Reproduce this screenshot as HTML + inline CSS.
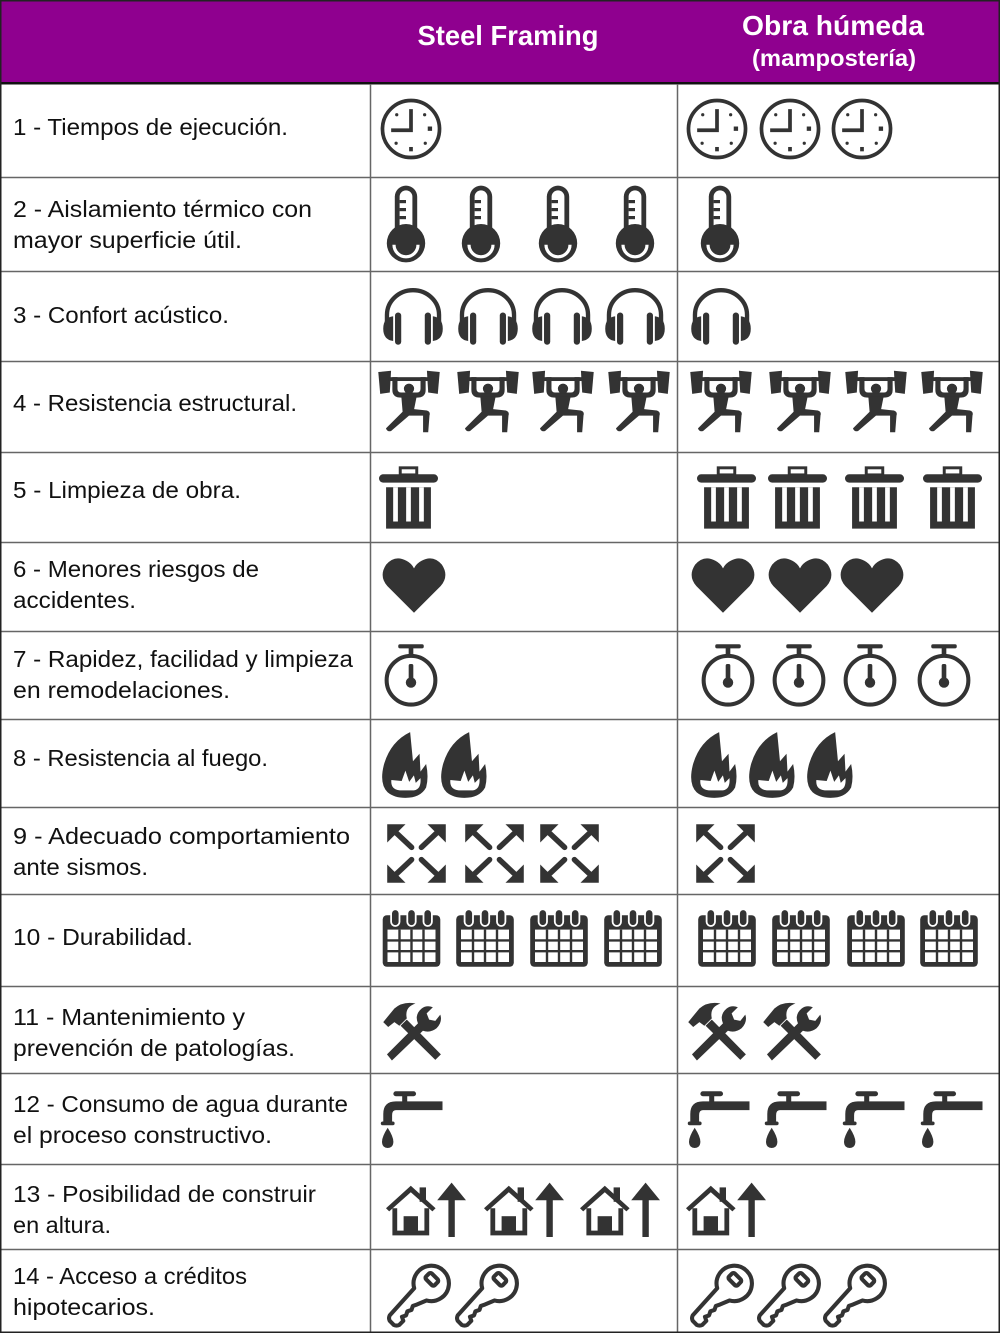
<!DOCTYPE html>
<html><head><meta charset="utf-8"><style>
html,body{margin:0;padding:0;background:#fff;}
svg{display:block;}
text{font-family:"Liberation Sans","DejaVu Sans",sans-serif;}
</style></head><body>
<svg width="1000" height="1333" viewBox="0 0 1000 1333" xmlns="http://www.w3.org/2000/svg">
<defs>
<symbol id="clock" viewBox="0 0 100 100">
 <circle cx="50" cy="50" r="46" fill="none" stroke="#333" stroke-width="6"/>
 <path d="M50 18V52H18" fill="none" stroke="#333" stroke-width="6"/>
 <g fill="#333"><rect x="77" y="46" width="7" height="7"/><rect x="47" y="79" width="6" height="7"/>
 <circle cx="72" cy="27" r="2.6"/><circle cx="27" cy="27" r="2.6"/><circle cx="26" cy="73" r="2.6"/><circle cx="73" cy="73" r="2.6"/></g>
</symbol>
<symbol id="thermo" viewBox="0 0 50 100">
 <rect x="11" y="2" width="28" height="66" rx="14" fill="#333"/>
 <rect x="17" y="8" width="16" height="52" rx="8" fill="#fff"/>
 <rect x="17" y="20" width="8" height="4" fill="#333"/><rect x="17" y="30" width="8" height="4" fill="#333"/><rect x="17" y="40" width="8" height="4" fill="#333"/>
 <circle cx="25" cy="74" r="24" fill="#333"/>
 <path d="M10 76A15 15 0 0 0 40 76" fill="none" stroke="#fff" stroke-width="4"/>
</symbol>
<symbol id="phones" viewBox="0 0 100 100">
 <path d="M8 70V50A42 40 0 0 1 92 50V70" fill="none" stroke="#333" stroke-width="7"/>
 <path d="M18 52Q2 54 2 72Q2 90 18 92Z" fill="#333"/>
 <rect x="21" y="46" width="10" height="52" rx="5" fill="#333"/>
 <path d="M82 52Q98 54 98 72Q98 90 82 92Z" fill="#333"/>
 <rect x="69" y="46" width="10" height="52" rx="5" fill="#333"/>
</symbol>
<symbol id="lifter" viewBox="0 0 100 100">
 <g fill="#333">
 <path d="M2 4L22 2L20 36L5 38Z"/><path d="M78 2L98 4L95 38L80 36Z"/>
 <rect x="18" y="12" width="64" height="6"/>
 <path d="M24 12H32V30Q32 36 38 36H62Q68 36 68 30V12H76V32Q76 44 62 44H38Q24 44 24 32Z"/>
 <circle cx="50" cy="30" r="8"/>
 <path d="M38 42H62L58 62L78 64Q84 66 82 72L80 98H72L72 72H50L22 96Q16 98 14 92L40 66Z"/>
 </g>
</symbol>
<symbol id="trash" viewBox="0 0 100 110">
 <rect x="36" y="3" width="28" height="12" fill="none" stroke="#333" stroke-width="5"/>
 <rect x="0" y="14" width="100" height="14" rx="7" fill="#333"/>
 <path d="M12 36H88V106H12Z" fill="#333"/>
 <rect x="24" y="36" width="8" height="58" fill="#fff"/><rect x="46" y="36" width="8" height="58" fill="#fff"/><rect x="68" y="36" width="8" height="58" fill="#fff"/>
</symbol>
<symbol id="heart" viewBox="0 0 100 90">
 <path d="M50 88L8 46Q-6 30 6 12Q20 -4 38 6Q46 10 50 18Q54 10 62 6Q80 -4 94 12Q106 30 92 46Z" fill="#333"/>
</symbol>
<symbol id="watch" viewBox="0 0 100 110">
 <rect x="28" y="2" width="44" height="7" rx="3" fill="#333"/>
 <rect x="46" y="6" width="8" height="18" fill="#333"/>
 <circle cx="50" cy="64" r="42" fill="none" stroke="#333" stroke-width="7"/>
 <rect x="46" y="36" width="8" height="30" rx="3" fill="#333"/><circle cx="50" cy="68" r="9" fill="#333"/>
</symbol>
<symbol id="flame" viewBox="0 0 100 140">
 <path d="M62 0Q20 20 6 70Q-4 110 14 128Q28 140 52 140Q84 140 96 118Q102 96 96 68L84 84L82 46L68 62Z" fill="#333"/>
 <path d="M22 102Q20 122 40 124H70Q86 122 84 98L74 108L70 92L60 106L52 82L44 104Z" fill="#fff"/>
</symbol>
<symbol id="arrows" viewBox="0 0 100 100">
 <g fill="#333" stroke="#333" stroke-width="9" stroke-linecap="round">
 <path d="M8 8L42 40"/><path d="M92 8L58 40"/><path d="M8 92L42 60"/><path d="M92 92L58 60"/>
 </g>
 <g fill="#333">
 <path d="M2 2H32L2 32Z"/><path d="M98 2H68L98 32Z"/><path d="M2 98H32L2 68Z"/><path d="M98 98H68L98 68Z"/>
 </g>
</symbol>
<symbol id="cal" viewBox="0 0 100 100">
 <rect x="2" y="12" width="96" height="86" rx="7" fill="#333"/>
 <g fill="#333" stroke="#fff" stroke-width="3"><rect x="16" y="2" width="14" height="28" rx="7"/><rect x="43" y="2" width="14" height="28" rx="7"/><rect x="70" y="2" width="14" height="28" rx="7"/></g>
 <rect x="10" y="36" width="80" height="54" fill="#fff"/>
 <g stroke="#333" stroke-width="4"><path d="M30 36V90M50 36V90M70 36V90M10 54H90M10 72H90"/></g>
</symbol>
<symbol id="tools" viewBox="0 0 100 100">
 <g fill="#333">
 <path d="M30 40L40 30L95 86L86 95Z"/>
 <path d="M2 34L20 12Q34 0 54 4Q36 10 40 28L28 40L20 34L10 42Z"/>
 <path d="M8 86L58 36Q52 22 64 12Q72 6 82 10L72 20L76 30L86 32L94 22Q98 34 88 44Q78 52 66 48L16 96Z"/>
 </g>
</symbol>
<symbol id="tap" viewBox="0 0 100 100">
 <g fill="#333">
 <rect x="22" y="2" width="36" height="8" rx="4"/><rect x="36" y="4" width="8" height="18"/>
 <path d="M100 18V32H26Q20 32 20 40V52H6V38Q6 18 26 18Z"/>
 <rect x="2" y="50" width="22" height="6" rx="3"/>
 <path d="M13 60Q4 74 4 82Q4 92 13 92Q22 92 22 82Q22 74 13 60Z"/>
 </g>
</symbol>
<symbol id="house" viewBox="0 0 100 70">
 <g fill="#333">
 <path d="M0 34L31 6L62 34L58 38L31 14L4 38Z"/>
 <rect x="42" y="8" width="8" height="18"/>
 <path d="M8 34H14V62H48V34H54V68H8Z"/>
 <rect x="22" y="44" width="18" height="20"/>
 <path d="M82 2L100 24H86V70H78V24H64Z"/>
 </g>
</symbol>
<symbol id="key" viewBox="0 0 100 100">
 <g fill="none" stroke="#333" stroke-width="6" stroke-linejoin="round">
 <path d="M58 58A26 26 0 1 0 40 40L4 80Q2 84 4 88L10 94Q14 96 18 94L24 88L22 82L28 80L30 74L36 72L38 66L44 64Z"/>
 <rect x="60" y="18" width="12" height="18" rx="3" transform="rotate(-45 66 27)"/>
 </g>
</symbol>
</defs>

<rect x="0" y="0" width="1000" height="84" fill="#8f008f"/>
<rect x="0" y="82" width="1000" height="2.5" fill="#111"/>
<text x="508" y="45" text-anchor="middle" font-size="28" font-weight="bold" fill="#fff" textLength="181" lengthAdjust="spacingAndGlyphs">Steel Framing</text>
<text x="833" y="35" text-anchor="middle" font-size="28" font-weight="bold" fill="#fff" textLength="182" lengthAdjust="spacingAndGlyphs">Obra húmeda</text>
<text x="834" y="66" text-anchor="middle" font-size="23" font-weight="bold" fill="#fff" textLength="164" lengthAdjust="spacingAndGlyphs">(mampostería)</text>

<g stroke="#666" stroke-width="1.5" fill="none">
<path d="M370.5 84V1333M677.5 84V1333"/>
<path d="M0 177.5H1000M0 271.5H1000M0 361.5H1000M0 452.5H1000M0 542.5H1000M0 631.5H1000M0 719.5H1000M0 807.5H1000M0 894.5H1000M0 986.5H1000M0 1073.5H1000M0 1164.5H1000M0 1249.5H1000"/>
</g>
<rect x="0.75" y="0.75" width="998.5" height="1331.5" fill="none" stroke="#222" stroke-width="1.5"/>

<g font-size="23" fill="#111">
<text x="13" y="135" textLength="275" lengthAdjust="spacingAndGlyphs">1 - Tiempos de ejecución.</text>
<text x="13" y="217" textLength="299" lengthAdjust="spacingAndGlyphs">2 - Aislamiento térmico con</text>
<text x="13" y="248" textLength="229" lengthAdjust="spacingAndGlyphs">mayor superficie útil.</text>
<text x="13" y="323" textLength="216" lengthAdjust="spacingAndGlyphs">3 - Confort acústico.</text>
<text x="13" y="411" textLength="284" lengthAdjust="spacingAndGlyphs">4 - Resistencia estructural.</text>
<text x="13" y="498" textLength="228" lengthAdjust="spacingAndGlyphs">5 - Limpieza de obra.</text>
<text x="13" y="577" textLength="246" lengthAdjust="spacingAndGlyphs">6 - Menores riesgos de</text>
<text x="13" y="608" textLength="123" lengthAdjust="spacingAndGlyphs">accidentes.</text>
<text x="13" y="667" textLength="340" lengthAdjust="spacingAndGlyphs">7 - Rapidez, facilidad y limpieza</text>
<text x="13" y="698" textLength="217" lengthAdjust="spacingAndGlyphs">en remodelaciones.</text>
<text x="13" y="766" textLength="255" lengthAdjust="spacingAndGlyphs">8 - Resistencia al fuego.</text>
<text x="13" y="844" textLength="337" lengthAdjust="spacingAndGlyphs">9 - Adecuado comportamiento</text>
<text x="13" y="875" textLength="135" lengthAdjust="spacingAndGlyphs">ante sismos.</text>
<text x="13" y="945" textLength="180" lengthAdjust="spacingAndGlyphs">10 - Durabilidad.</text>
<text x="13" y="1025" textLength="232" lengthAdjust="spacingAndGlyphs">11 - Mantenimiento y</text>
<text x="13" y="1056" textLength="282" lengthAdjust="spacingAndGlyphs">prevención de patologías.</text>
<text x="13" y="1112" textLength="335" lengthAdjust="spacingAndGlyphs">12 - Consumo de agua durante</text>
<text x="13" y="1143" textLength="259" lengthAdjust="spacingAndGlyphs">el proceso constructivo.</text>
<text x="13" y="1202" textLength="303" lengthAdjust="spacingAndGlyphs">13 - Posibilidad de construir</text>
<text x="13" y="1233" textLength="98" lengthAdjust="spacingAndGlyphs">en altura.</text>
<text x="13" y="1284" textLength="234" lengthAdjust="spacingAndGlyphs">14 - Acceso a créditos</text>
<text x="13" y="1315" textLength="142" lengthAdjust="spacingAndGlyphs">hipotecarios.</text>
</g>

<use href="#clock" x="380" y="98" width="62" height="62"/>
<use href="#clock" x="686" y="98" width="62" height="62"/>
<use href="#clock" x="759" y="98" width="62" height="62"/>
<use href="#clock" x="831" y="98" width="62" height="62"/>
<use href="#thermo" x="386" y="184" width="40" height="80"/>
<use href="#thermo" x="461" y="184" width="40" height="80"/>
<use href="#thermo" x="538" y="184" width="40" height="80"/>
<use href="#thermo" x="615" y="184" width="40" height="80"/>
<use href="#thermo" x="700" y="184" width="40" height="80"/>
<use href="#phones" x="380" y="284" width="66" height="62"/>
<use href="#phones" x="456" y="284" width="64" height="62"/>
<use href="#phones" x="530" y="284" width="64" height="62"/>
<use href="#phones" x="603" y="284" width="64" height="62"/>
<use href="#phones" x="688" y="284" width="66" height="62"/>
<use href="#lifter" x="377" y="369" width="64" height="65"/>
<use href="#lifter" x="456" y="369" width="64" height="65"/>
<use href="#lifter" x="531" y="369" width="64" height="65"/>
<use href="#lifter" x="607" y="369" width="64" height="65"/>
<use href="#lifter" x="689" y="369" width="64" height="65"/>
<use href="#lifter" x="768" y="369" width="64" height="65"/>
<use href="#lifter" x="844" y="369" width="64" height="65"/>
<use href="#lifter" x="920" y="369" width="64" height="65"/>
<use href="#trash" x="379" y="466" width="59" height="65"/>
<use href="#trash" x="697" y="466" width="59" height="65"/>
<use href="#trash" x="768" y="466" width="59" height="65"/>
<use href="#trash" x="845" y="466" width="59" height="65"/>
<use href="#trash" x="923" y="466" width="59" height="65"/>
<use href="#heart" x="382" y="557" width="64" height="57"/>
<use href="#heart" x="691" y="557" width="64" height="57"/>
<use href="#heart" x="768" y="557" width="64" height="57"/>
<use href="#heart" x="840" y="557" width="64" height="57"/>
<use href="#watch" x="382" y="642" width="58" height="66"/>
<use href="#watch" x="699" y="642" width="58" height="66"/>
<use href="#watch" x="770" y="642" width="58" height="66"/>
<use href="#watch" x="841" y="642" width="58" height="66"/>
<use href="#watch" x="915" y="642" width="58" height="66"/>
<use href="#flame" x="381" y="732" width="47" height="66"/>
<use href="#flame" x="440" y="732" width="47" height="66"/>
<use href="#flame" x="690" y="732" width="47" height="66"/>
<use href="#flame" x="748" y="732" width="47" height="66"/>
<use href="#flame" x="806" y="732" width="47" height="66"/>
<use href="#arrows" x="386" y="823" width="61" height="61"/>
<use href="#arrows" x="464" y="823" width="61" height="61"/>
<use href="#arrows" x="539" y="823" width="61" height="61"/>
<use href="#arrows" x="695" y="823" width="61" height="61"/>
<use href="#cal" x="381" y="908" width="61" height="60"/>
<use href="#cal" x="455" y="908" width="60" height="60"/>
<use href="#cal" x="529" y="908" width="60" height="60"/>
<use href="#cal" x="603" y="908" width="60" height="60"/>
<use href="#cal" x="697" y="908" width="60" height="60"/>
<use href="#cal" x="771" y="908" width="60" height="60"/>
<use href="#cal" x="846" y="908" width="60" height="60"/>
<use href="#cal" x="919" y="908" width="60" height="60"/>
<use href="#tools" x="380" y="1001" width="66" height="62"/>
<use href="#tools" x="685" y="1001" width="66" height="62"/>
<use href="#tools" x="760" y="1001" width="66" height="62"/>
<use href="#tap" x="378" y="1090" width="66" height="63"/>
<use href="#tap" x="685" y="1090" width="66" height="63"/>
<use href="#tap" x="762" y="1090" width="66" height="63"/>
<use href="#tap" x="840" y="1090" width="66" height="63"/>
<use href="#tap" x="918" y="1090" width="66" height="63"/>
<use href="#house" x="386" y="1181" width="80" height="56"/>
<use href="#house" x="484" y="1181" width="80" height="56"/>
<use href="#house" x="580" y="1181" width="80" height="56"/>
<use href="#house" x="686" y="1181" width="80" height="56"/>
<use href="#key" x="387" y="1261" width="68" height="68"/>
<use href="#key" x="455" y="1261" width="68" height="68"/>
<use href="#key" x="690" y="1261" width="68" height="68"/>
<use href="#key" x="757" y="1261" width="68" height="68"/>
<use href="#key" x="823" y="1261" width="68" height="68"/>
</svg>
</body></html>
